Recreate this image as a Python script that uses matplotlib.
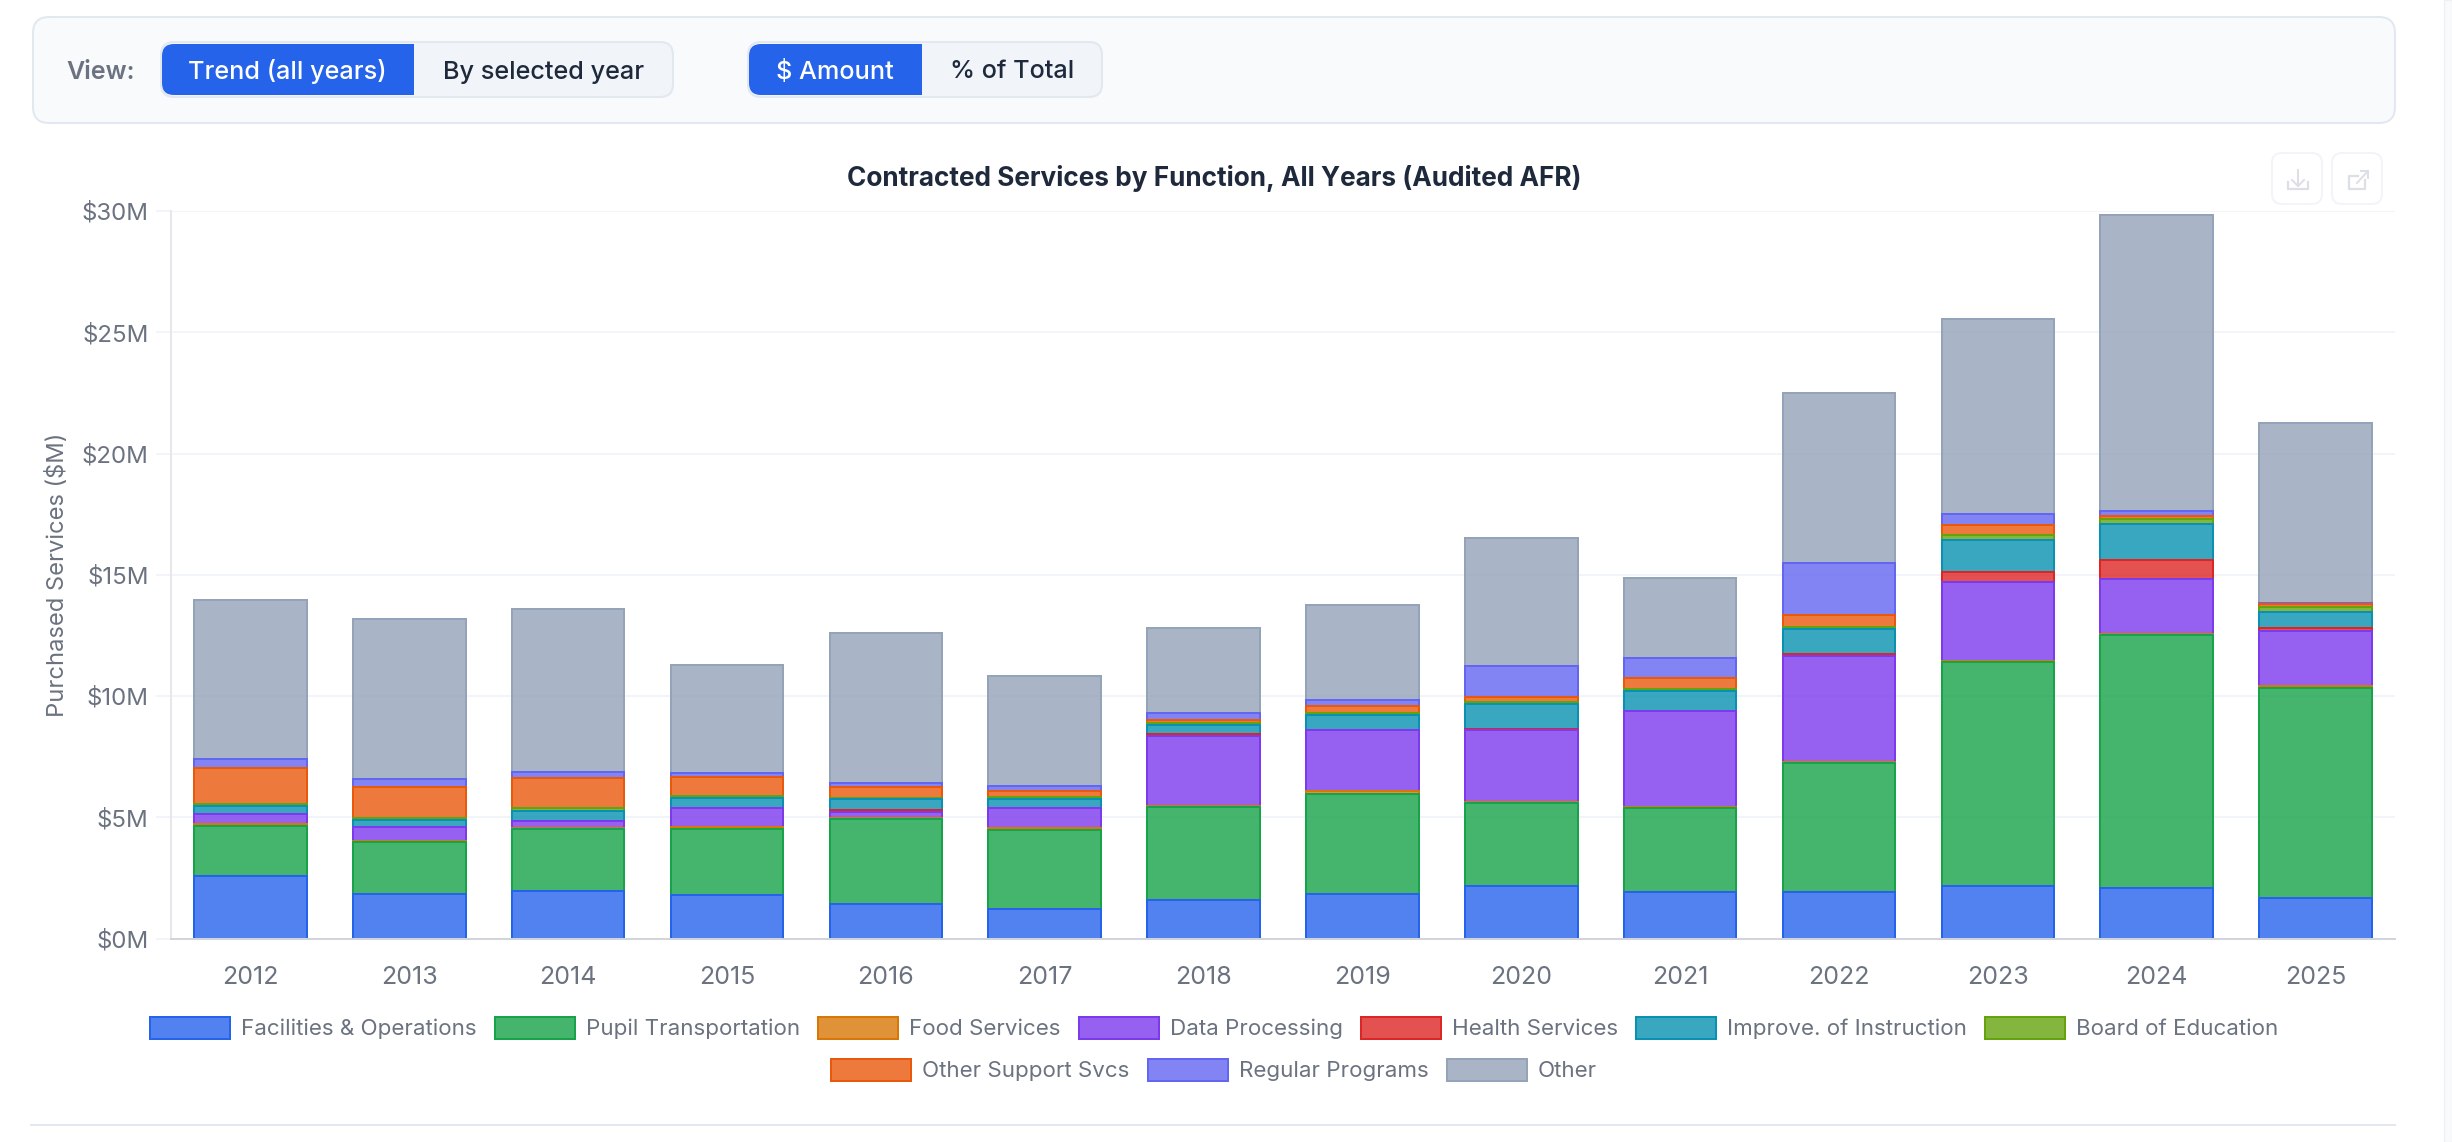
import matplotlib
matplotlib.use("Agg")
import matplotlib.pyplot as plt
from matplotlib.patches import FancyBboxPatch, Patch, Rectangle
from matplotlib.ticker import FuncFormatter

plt.rcParams['font.family'] = ['Inter', 'DejaVu Sans']

W, H = 2452, 1142
PX = 72 / 100  # one pixel in points at dpi=100

years = ['2012', '2013', '2014', '2015', '2016', '2017', '2018',
         '2019', '2020', '2021', '2022', '2023', '2024', '2025']

# $M per function
facilities = [2.61, 1.87, 2.02, 1.84, 1.49, 1.25, 1.64, 1.87, 2.20, 1.95, 1.95, 2.20, 2.12, 1.71]
pupil = [2.08, 2.15, 2.53, 2.71, 3.49, 3.27, 3.82, 4.15, 3.44, 3.47, 5.34, 9.24, 10.45, 8.66]
food = [0.06, 0.05, 0.07, 0.11, 0.04, 0.07, 0.07, 0.09, 0.05, 0.04, 0.04, 0.07, 0.05, 0.07]
data_processing = [0.43, 0.58, 0.29, 0.77, 0.26, 0.83, 2.88, 2.55, 2.94, 3.96, 4.36, 3.23, 2.26, 2.28]
health = [0, 0, 0, 0, 0.08, 0, 0.07, 0, 0.05, 0, 0.08, 0.41, 0.79, 0.13]
improve = [0.33, 0.29, 0.40, 0.41, 0.42, 0.37, 0.36, 0.61, 1.03, 0.82, 1.04, 1.33, 1.45, 0.68]
board = [0.08, 0.07, 0.12, 0.09, 0.08, 0.10, 0.08, 0.09, 0.07, 0.11, 0.10, 0.20, 0.24, 0.18]
other_support = [1.47, 1.29, 1.25, 0.78, 0.44, 0.23, 0.15, 0.28, 0.23, 0.42, 0.48, 0.42, 0.11, 0.11]
regular = [0.39, 0.31, 0.24, 0.18, 0.18, 0.22, 0.27, 0.26, 1.26, 0.86, 2.16, 0.43, 0.21, 0.08]
other = [6.57, 6.62, 6.73, 4.45, 6.18, 4.54, 3.49, 3.88, 5.31, 3.30, 7.00, 8.05, 12.19, 7.40]

series = [facilities, pupil, food, data_processing, health, improve, board,
          other_support, regular, other]
labels = ['Facilities & Operations', 'Pupil Transportation', 'Food Services',
          'Data Processing', 'Health Services', 'Improve. of Instruction',
          'Board of Education', 'Other Support Svcs', 'Regular Programs', 'Other']
colors = ['#2563eb', '#16a34a', '#d97706', '#7c3aed', '#dc2626',
          '#0891b2', '#65a30d', '#ea580c', '#6366f1', '#94a3b8']

GREY = '#6b7280'
DARK = '#1e293b'
GRID = '#f1f5f9'
BORDER = '#e2e8f0'
BLUE = '#2563eb'
BAR_WIDTH = 0.722

fig = plt.figure(figsize=(W / 100, H / 100), dpi=100, facecolor='white')

# page furniture, in pixel coordinates
page = fig.add_axes([0, 0, 1, 1], zorder=0)
page.set_xlim(0, W)
page.set_ylim(H, 0)
page.axis('off')


def rounded(x0, y0, x1, y1, r, face, edge='none', lw=0.0, ax=page):
    box = FancyBboxPatch((x0 + r, y0 + r), x1 - x0 - 2 * r, y1 - y0 - 2 * r,
                         boxstyle=f'round,pad={r},rounding_size={r}',
                         facecolor=face, edgecolor=edge, linewidth=lw * PX)
    ax.add_patch(box)
    return box


def toggle(x0, split, x1, y0, y1, left, right):
    rounded(x0, y0, x1, y1, 13, '#f1f5f9', BORDER, 2)
    active = rounded(x0 + 1, y0 + 2, split + 20, y1 - 2, 12, BLUE)
    active.set_clip_path(Rectangle((x0, y0), split - x0, y1 - y0, transform=page.transData))
    page.text((x0 + split) / 2, (y0 + y1) / 2, left, color='white', fontsize=18.2,
              fontweight='medium', ha='center', va='center_baseline')
    page.text((split + x1) / 2, (y0 + y1) / 2, right, color=DARK, fontsize=18.2,
              fontweight='medium', ha='center', va='center_baseline')


rounded(33, 17, 2395, 123, 16, '#f8fafc', BORDER, 2)
page.text(66, 70, 'View:', color=GREY, fontsize=18, fontweight='semibold',
          ha='left', va='center_baseline')
toggle(161, 414, 673, 42, 97, 'Trend (all years)', 'By selected year')
toggle(748, 922, 1102, 42, 97, '$ Amount', '% of Total')

page.plot([31, 2395], [1125, 1125], color=BORDER, lw=2 * PX)
page.add_patch(Rectangle((2444, 0), 8, H, facecolor='#f8fafc', edgecolor='#eef0f4', lw=1))

page.text(1214, 176, 'Contracted Services by Function, All Years (Audited AFR)',
          color=DARK, fontsize=18.85, fontweight='bold', ha='center', va='center_baseline')

# export / open buttons
icon = '#dcdfe6'
rounded(2272, 153, 2322, 204, 10, 'white', '#f3f4f7', 2)
rounded(2332, 153, 2382, 204, 10, 'white', '#f3f4f7', 2)
page.plot([2298, 2298], [170, 186], color=icon, lw=1.4)
page.plot([2292, 2298, 2304], [180, 186, 180], color=icon, lw=1.4)
page.plot([2288, 2288, 2308, 2308], [182, 189, 189, 182], color=icon, lw=1.6)
page.plot([2358, 2349, 2349, 2365, 2365], [176, 176, 189, 189, 180], color=icon, lw=1.6)
page.plot([2357, 2368], [183, 171], color=icon, lw=1.4)
page.plot([2361, 2368, 2368], [171, 171, 178], color=icon, lw=1.4)

# chart
ax = fig.add_axes([171 / W, 1 - 938.7 / H, (2395 - 171) / W, 727.7 / H], zorder=1)
ax.patch.set_alpha(0)

bottom = [0.0] * len(years)
handles = []
skip = 0.25  # pushes the outline's lower side out of its clip, so segments have no bottom border
for values, label, color in zip(series, labels, colors):
    face = matplotlib.colors.to_rgba(color, 0.8)
    bars = ax.bar(years, values, width=BAR_WIDTH, bottom=bottom, color=face, linewidth=0)
    # outline sits inside each bar: twice the width, clipped to the bar itself
    outlines = ax.bar(years, [v + skip for v in values], width=BAR_WIDTH,
                      bottom=[b - skip for b in bottom], fill=False,
                      edgecolor=color, linewidth=4 * PX)
    for rect, line, v in zip(bars, outlines, values):
        line.set_clip_path(rect)
        if v == 0:
            rect.set_visible(False)
            line.set_visible(False)
    handles.append(Patch(facecolor=face, edgecolor=color, linewidth=2 * PX, label=label))
    bottom = [b + v for b, v in zip(bottom, values)]

ax.set_xlim(-0.5, len(years) - 0.5)
ax.set_ylim(0, 30)
ax.set_yticks([0, 5, 10, 15, 20, 25, 30])
ax.yaxis.set_major_formatter(FuncFormatter(lambda v, _: f'${v:.0f}M'))
ax.set_axisbelow(True)
ax.grid(axis='y', color=GRID, linewidth=2 * PX)
ax.tick_params(axis='y', length=15.5 * PX, width=2 * PX, color=GRID, labelcolor=GREY,
               labelsize=17.3, pad=5)
ax.tick_params(axis='x', length=0, labelcolor=GREY, labelsize=18, pad=20)
ax.set_ylabel('Purchased Services ($M)', color=GREY, fontsize=17.1)
ax.yaxis.set_label_coords(-0.046, 0.5)
for side in ['top', 'right']:
    ax.spines[side].set_visible(False)
ax.spines['left'].set_color('#e5e7eb')
ax.spines['left'].set_linewidth(2 * PX)
ax.spines['bottom'].set_color('#d1d5db')
ax.spines['bottom'].set_linewidth(2 * PX)


def legend_row(start, stop, y):
    size = 16.1
    fig.legend(handles=handles[start:stop], ncol=stop - start, loc='center',
               bbox_to_anchor=(1214 / W, 1 - y / H), frameon=False,
               fontsize=size, labelcolor=GREY, handlelength=80 * PX / size,
               handleheight=26 * PX / size, handletextpad=11 * PX / size,
               columnspacing=18 * PX / size, borderpad=0, borderaxespad=0)


legend_row(0, 7, 1028)
legend_row(7, 10, 1070)

fig.savefig('out.png', dpi=100)
